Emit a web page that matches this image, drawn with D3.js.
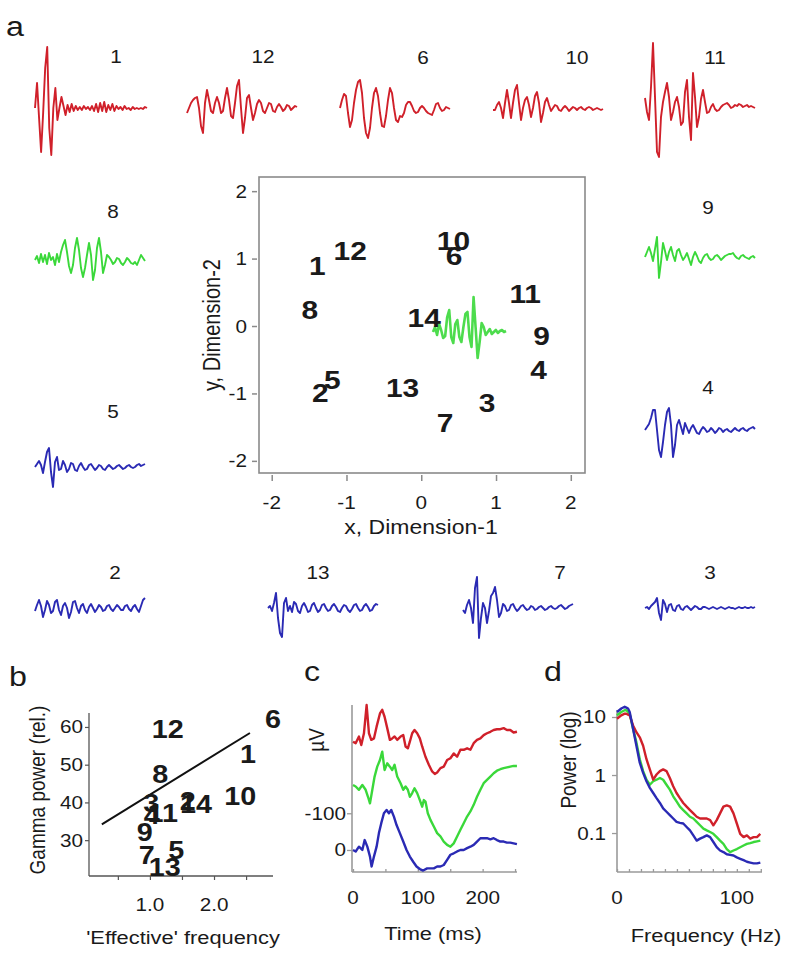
<!DOCTYPE html>
<html><head><meta charset="utf-8">
<script src="https://cdn.jsdelivr.net/npm/d3@7"></script>
<style>body{margin:0;background:#fff} svg{display:block} text{font-family:"Liberation Sans",Arial,sans-serif;fill:#1a1a1a}</style>
</head><body><svg id="fig" width="800" height="976"></svg>
<script>
// ---------- DATA ----------
// panel a: example waveforms (amplitude, up = positive), sampled evenly
const wave1  = [0,25,-10,-44,-5,40,61,-20,-47,0,20,-12,0,11,2,-7,3,-4,4,-3,2,-2,1,-2,2,-1,1,-2,2,-3,4,-4,5,-3,6,-4,3,-2,4,-3,2,-1,1,-2,2,-1,0,-2,1,-1,0,-1,0,-1,1,0];
const wave12 = [-5,0,5,8,10,11,0,-18,-25,5,18,8,-3,-5,5,11,5,-5,-3,10,20,8,-8,-10,5,22,28,0,-25,-10,10,13,0,-12,-5,4,8,5,-3,-5,0,5,4,-3,-4,1,4,1,-3,-1,3,2,-2,0,2,1];
const wave6  = [0,8,14,12,-5,-19,-12,5,18,26,28,15,-10,-25,-30,-20,0,15,20,12,-5,-18,-19,-8,8,20,15,0,-12,-14,-8,-9,-5,3,6,6,2,-3,-5,-4,0,2,0,-3,-5,-6,-7,-2,4,5,0,-3,-2,1,0,-1];
const wave10 = [-2,-2,3,6,0,-10,5,18,5,-10,5,18,23,5,-12,0,8,11,3,-9,0,12,16,5,-14,-5,6,10,3,-3,0,3,2,-2,-3,0,2,0,-3,-1,1,0,-2,0,1,-1,-2,0,1,0,-2,-1,0,-1,-2,-1];
const wave11 = [9,-5,-13,20,64,10,-45,-50,-10,5,15,24,10,-13,-5,5,10,0,-18,-15,15,27,-10,-33,34,10,-20,-10,8,17,5,-6,-5,0,3,-2,-4,-3,0,2,3,4,2,-1,0,2,1,3,2,0,1,2,0,1,0,-1];
const wave8  = [0,4,-3,6,-2,5,-4,7,0,3,-5,6,-2,8,15,20,8,-6,-13,-5,12,22,10,-8,-17,-8,5,17,5,-20,-10,12,22,8,-13,-5,5,3,0,-4,-2,2,1,-3,-5,-2,2,0,-3,-4,-2,-5,0,5,2,-1];
const wave9  = [0,5,10,4,-4,8,20,-21,-5,14,6,-3,5,10,2,-4,6,8,2,-3,0,4,-2,-8,0,5,1,-4,-6,-1,2,3,-1,-3,-2,1,2,0,-3,-1,1,2,3,3,4,1,-1,-2,1,2,0,-1,-2,0,1,-1];
const wave5  = [0,3,6,2,-6,5,15,19,-5,-20,5,10,-3,-2,6,2,-5,-2,4,3,-3,-4,1,4,0,-3,-2,2,3,0,-3,-1,2,1,-2,-3,0,2,0,-2,-1,1,2,0,-2,-1,1,2,0,-1,0,2,3,1,2,3];
const wave4  = [0,3,6,12,20,20,0,-20,-27,-12,5,18,22,5,-27,-15,5,10,3,-4,7,2,-3,2,5,1,-3,-4,0,3,1,-2,-1,2,0,-3,-1,2,1,-2,0,1,-1,-2,0,2,0,-1,1,2,0,-1,1,2,3,1];
const wave2  = [-3,3,8,2,-9,-2,7,3,-5,-3,6,8,-2,-7,2,5,0,-10,-4,6,7,0,-5,2,4,-2,-5,1,4,0,-4,-1,3,1,-3,-2,2,3,-1,-3,0,3,1,-2,-2,2,3,-1,-3,1,3,-1,-4,2,8,10];
const wave13 = [0,2,-3,5,15,-10,-25,-29,5,10,-3,2,-4,6,4,-3,-5,2,5,1,-4,-3,3,5,0,-4,-2,3,4,0,-3,-2,2,4,1,-3,-4,0,3,2,-2,-4,-1,3,4,0,-3,-2,2,4,1,-3,-2,2,4,3];
const wave7  = [-2,-5,3,8,0,-15,20,31,-30,-10,5,0,-15,-3,12,15,21,8,-9,-5,4,2,-3,-2,3,4,0,-3,-1,2,3,0,-2,-1,2,1,-2,-1,1,2,0,-2,-1,1,2,0,-1,0,2,3,1,-1,0,2,3,4];
const wave3  = [0,1,-1,2,4,6,10,-5,-12,8,4,-4,3,4,-2,-3,2,3,-1,-2,1,2,0,-2,0,2,1,-1,-1,1,1,0,-1,0,1,0,-1,0,1,0,-1,0,1,0,0,-1,0,1,0,0,1,0,0,1,0,1];
const wave14 = [0,5,-3,8,2,-6,-4,15,22,-5,-11,8,12,-5,-10,5,18,20,-5,-15,35,5,-26,-10,9,5,-3,0,3,-2,0,2,-1,1,2,0,1];

// panel a: MDS coordinates of the 14 patterns
const mdsLabels = ["1","2","3","4","5","6","7","8","9","10","11","12","13","14"];
const mdsX = [-1.39,-1.35,0.88,1.57,-1.19,0.44,0.32,-1.49,1.61,0.43,1.39,-0.95,-0.25,0.04];
const mdsY = [0.89,-0.99,-1.14,-0.65,-0.81,1.04,-1.44,0.24,-0.15,1.26,0.47,1.11,-0.92,0.12];
const mdsTicks = [-2,-1,0,1,2];

// panel b: gamma power vs effective frequency
const bLabels  = ["1","2","3","4","5","6","7","8","9","10","11","12","13","14"];
const effFreq  = [2.53,1.59,1.02,1.03,1.41,2.92,0.95,1.16,0.92,2.41,1.20,1.28,1.23,1.72];
const gammaPow = [52.6,40.1,39.8,36.4,27.3,61.9,26.0,47.3,32.1,41.5,36.9,59.2,22.8,39.5];
const fitX = [0.25,2.56];
const fitY = [34.2,58.4];
const bYTicks = [30,40,50,60];
const bXTicks = [0.5,1.0,1.5,2.0,2.5];
const bXLabels = [1.0,2.0];

// panel c: average evoked responses [time ms, µV]
const ercRed = [[0,-295],[4.1,-291],[9.2,-309],[12.8,-286],[16.9,-318],[21,-395],[24.6,-318],[28.2,-300],[32.3,-304],[36.4,-336],[41.6,-372],[45.1,-382],[48.7,-363],[52.8,-332],[56.9,-300],[60.5,-304],[64.1,-309],[68.2,-300],[73.4,-309],[77.5,-313],[81.1,-282],[84.6,-277],[87.7,-295],[91.3,-318],[94.9,-327],[99,-318],[103.1,-304],[106.7,-282],[111.8,-254],[117,-232],[122.1,-214],[126.2,-207],[129.8,-211],[134.9,-223],[140,-227],[145.2,-245],[150.3,-250],[155.4,-263],[160.6,-254],[165.7,-273],[170.8,-273],[176,-277],[181.1,-273],[186.2,-291],[191.3,-300],[196.5,-304],[201.6,-313],[206.7,-318],[211.9,-322],[217,-327],[222.1,-329],[227.3,-329],[232.4,-332],[237.5,-327],[242.6,-327],[247.8,-320],[252.9,-322]];
const ercGreen = [[0,-177],[4.1,-173],[9.2,-164],[14.4,-177],[19.5,-164],[23.1,-145],[26.2,-127],[29.8,-164],[33.3,-200],[37.4,-227],[41.6,-245],[45.1,-268],[48.7,-218],[52.8,-236],[56.9,-227],[60.5,-218],[64.1,-232],[68.2,-200],[73.4,-182],[77.5,-164],[81.1,-173],[84.6,-164],[87.7,-145],[91.3,-155],[94.9,-168],[99,-155],[103.1,-136],[106.7,-118],[109.3,-136],[111.8,-132],[115.4,-100],[119.5,-82],[124.7,-64],[129.8,-46],[134.9,-37],[140,-23],[145.2,-14],[150.3,-9],[155.4,-18],[160.6,-37],[165.7,-55],[170.8,-73],[176,-91],[181.1,-105],[186.2,-123],[191.3,-145],[196.5,-164],[201.6,-182],[206.7,-191],[211.9,-200],[217,-209],[222.1,-216],[227.3,-220],[232.4,-223],[237.5,-225],[242.6,-227],[247.8,-229],[252.9,-229]];
const ercBlue = [[0,0],[4.1,4],[9.2,-9],[14.4,0],[18,-27],[22.1,-9],[26.2,18],[28.7,45],[32.3,18],[36.4,-9],[40,-46],[43.6,-73],[47.7,-100],[51.8,-109],[55.4,-100],[59,-109],[63.1,-91],[67.2,-68],[72.3,-46],[77.5,-23],[82.6,0],[87.7,18],[92.9,32],[98,45],[103.1,52],[108.2,56],[114.4,50],[119.5,50],[124.7,50],[129.8,45],[134.9,45],[140,41],[145.2,27],[150.3,13],[155.4,9],[160.6,4],[165.7,0],[170.8,0],[176,-5],[181.1,-9],[186.2,-14],[191.3,-23],[196.5,-32],[201.6,-32],[206.7,-32],[211.9,-29],[217,-32],[222.1,-27],[227.3,-23],[232.4,-23],[237.5,-20],[242.6,-20],[247.8,-18],[252.9,-16]];
const cYTicks = [-100,0];
const cXTicks = [0,50,100,150,200,250];
const cXLabels = [0,100,200];

// panel d: power spectra
const freqHz = [0,3.6,6.4,7.8,9.2,10.6,13.4,16.2,19,21.8,24.6,27.4,30.2,33,35.8,38.5,41.3,44.1,46.9,49.7,52.5,55.3,58.1,60.9,63.7,66.5,69.3,72.1,74.9,77.7,80.4,83.2,86,88.8,91.6,94.4,97.2,100,102.8,105.6,108.4,111.2,114,116.8,119.6];
const powRed   = [9.35,10.7,11.4,11.4,11.0,10.7,7.15,5.47,4.47,3.19,1.87,1.25,0.83,1.02,1.17,1.25,1.17,0.89,0.64,0.49,0.40,0.33,0.285,0.249,0.218,0.191,0.178,0.178,0.178,0.167,0.136,0.167,0.218,0.285,0.30,0.285,0.218,0.146,0.097,0.085,0.091,0.080,0.085,0.085,0.097];
const powGreen = [10.7,12.2,13.1,13.1,12.2,11.4,6.25,3.65,1.87,1.17,0.83,0.68,0.78,0.83,0.89,0.83,0.68,0.56,0.43,0.35,0.285,0.249,0.218,0.191,0.178,0.156,0.136,0.119,0.111,0.104,0.097,0.085,0.074,0.065,0.053,0.047,0.050,0.053,0.057,0.061,0.065,0.067,0.070,0.072,0.074];
const powBlue  = [12.2,14.0,15.0,14.5,14.0,12.2,6.25,3.19,1.63,1.09,0.78,0.60,0.49,0.40,0.33,0.267,0.233,0.204,0.178,0.156,0.150,0.146,0.127,0.111,0.091,0.074,0.080,0.085,0.091,0.085,0.070,0.057,0.050,0.047,0.043,0.042,0.041,0.038,0.036,0.034,0.032,0.031,0.030,0.030,0.031];
const dYTicks = [10,1,0.1];
const dXTicks = [0,10,20,30,40,50,60,70,80,90,100,110,120];
const dXLabels = [0,100];

// ---------- DRAWING ----------
const RED = "#d0202a", GREEN = "#3ad83a", BLUE = "#2a2ab4";
const SX = 1.15;
const svg = d3.select("#fig");

function txt(x, y, s, size, o = {}) {
  return svg.append("text")
    .attr("transform", `translate(${x},${y}) scale(${SX},1)` + (o.rot ? ` rotate(${o.rot})` : ""))
    .attr("text-anchor", o.anchor || "middle")
    .attr("dominant-baseline", "central")
    .style("font-size", size + "px")
    .style("font-weight", o.bold ? "bold" : "normal")
    .text(s);
}

// waveforms
const waves = {"1":wave1,"12":wave12,"6":wave6,"10":wave10,"11":wave11,"8":wave8,"9":wave9,"5":wave5,"4":wave4,"2":wave2,"13":wave13,"7":wave7,"3":wave3};
const wfPlace = {"1":[35,147,108],"12":[187,297,108],"6":[340,450,108],"10":[493,603,108],"11":[645,755,107],
  "8":[35,145,260],"9":[645,755,257],"5":[35,145,467],"4":[645,755,430],
  "2":[35,145,608],"13":[268,378,608],"7":[463,573,608],"3":[645,755,608]};
const wfLabelPos = {"1":[116,57],"12":[263,57],"6":[423,58],"10":[577,58],"11":[715,58],
  "8":[113,212],"9":[708,208],"5":[113,412],"4":[708,388],
  "2":[115,573],"13":[318,573],"7":[560,573],"3":[710,573]};
const wfColor = id => (["1","12","6","10","11"].includes(id) ? RED : (["8","9","14"].includes(id) ? GREEN : BLUE));

function drawWave(vals, x0, x1, base, color, width, opacity) {
  const x = d3.scaleLinear().domain([0, vals.length - 1]).range([x0, x1]);
  const y = d3.scaleLinear().domain([-10, 10]).range([base + 10, base - 10]);
  svg.append("path").datum(vals)
    .attr("d", d3.line().x((d, i) => x(i)).y(d => y(d)))
    .attr("fill", "none").attr("stroke", color).attr("stroke-width", width)
    .attr("stroke-linejoin", "round").attr("opacity", opacity || 1);
}
Object.keys(waves).forEach(id => {
  const p = wfPlace[id];
  drawWave(waves[id], p[0], p[1], p[2], wfColor(id), 1.9);
  txt(wfLabelPos[id][0], wfLabelPos[id][1], id, 18);
});

txt(15, 26, "a", 28);

// MDS scatter
const sx = d3.scaleLinear().domain([-2.17, 2.19]).range([259, 585]);
const sy = d3.scaleLinear().domain([-2.18, 2.21]).range([473, 177]);
svg.append("rect").attr("x", sx.range()[0]).attr("y", sy.range()[1])
  .attr("width", sx.range()[1] - sx.range()[0]).attr("height", sy.range()[0] - sy.range()[1])
  .attr("fill", "none").attr("stroke", "#8a8a8a").attr("stroke-width", 1.6);
const gyA = svg.append("g").attr("transform", "translate(257,0)")
  .call(d3.axisLeft(sy).tickValues(mdsTicks).tickSize(5).tickFormat(""));
const gxA = svg.append("g").attr("transform", "translate(0,475)")
  .call(d3.axisBottom(sx).tickValues(mdsTicks).tickSize(6).tickFormat(""));
[gyA, gxA].forEach(g => { g.select(".domain").remove(); g.selectAll("line").attr("stroke", "#8a8a8a").attr("stroke-width", 1.5); });
mdsTicks.forEach(v => {
  txt(247, sy(v), String(v), 18, {anchor: "end"});
  txt(sx(v), 503, String(v), 18);
});
txt(421, 527, "x, Dimension-1", 20);
txt(212, 325, "y, Dimension-2", 20, {rot: -90});
drawWave(wave14, 433, 506, 332, GREEN, 2.6, 0.9);
mdsLabels.forEach((l, i) => txt(sx(mdsX[i]), sy(mdsY[i]), l, 26, {bold: true}));

// panel b
txt(18, 676, "b", 28);
const bx = d3.scaleLinear().domain([0.05, 2.92]).range([89, 273]);
const by = d3.scaleLinear().domain([20.5, 63.7]).range([876, 713]);
svg.append("line").attr("x1", 89).attr("x2", 89).attr("y1", 713).attr("y2", 876).attr("stroke", "#555").attr("stroke-width", 1.3);
svg.append("line").attr("x1", 89).attr("x2", 273).attr("y1", 876).attr("y2", 876).attr("stroke", "#555").attr("stroke-width", 1.3);
const gby = svg.append("g").attr("transform", "translate(89,0)")
  .call(d3.axisLeft(by).tickValues(bYTicks).tickSize(4).tickFormat(""));
const gbx = svg.append("g").attr("transform", "translate(0,876)")
  .call(d3.axisBottom(bx).tickValues(bXTicks).tickSize(4).tickFormat(""));
[gby, gbx].forEach(g => { g.select(".domain").remove(); g.selectAll("line").attr("stroke", "#555").attr("stroke-width", 1.2); });
bYTicks.forEach(v => txt(83, by(v), String(v), 18, {anchor: "end"}));
bXLabels.forEach(v => txt(bx(v), 905, d3.format(".1f")(v), 18));
txt(183, 937, "'Effective' frequency", 19);
txt(37, 790, "Gamma power (rel.)", 19, {rot: -90});
svg.append("line").attr("x1", bx(fitX[0])).attr("y1", by(fitY[0])).attr("x2", bx(fitX[1])).attr("y2", by(fitY[1]))
  .attr("stroke", "#111").attr("stroke-width", 2);
bLabels.forEach((l, i) => txt(bx(effFreq[i]), by(gammaPow[i]), l, 25, {bold: true}));

// panel c
txt(312, 671, "c", 28);
const cx = d3.scaleLinear().domain([0, 253]).range([353, 517]);
const cy = d3.scaleLinear().domain([-395, 60]).range([705, 872]);
svg.append("line").attr("x1", 352).attr("x2", 352).attr("y1", 705).attr("y2", 872).attr("stroke", "#9a9a9a").attr("stroke-width", 1.6);
svg.append("line").attr("x1", 352).attr("x2", 517).attr("y1", 872).attr("y2", 872).attr("stroke", "#9a9a9a").attr("stroke-width", 1.6);
const gcy = svg.append("g").attr("transform", "translate(352,0)")
  .call(d3.axisLeft(cy).tickValues(cYTicks).tickSize(5).tickFormat(""));
const gcx = svg.append("g").attr("transform", "translate(0,872)")
  .call(d3.axisTop(cx).tickValues(cXTicks).tickSize(3).tickFormat(""));
[gcy, gcx].forEach(g => { g.select(".domain").remove(); g.selectAll("line").attr("stroke", "#9a9a9a").attr("stroke-width", 1.3); });
cYTicks.forEach(v => txt(346, cy(v), String(v), 18, {anchor: "end"}));
cXLabels.forEach(v => txt(cx(v), 898, String(v), 18));
txt(433, 933, "Time (ms)", 19);
txt(316, 740, "µV", 19, {rot: -90});
const cLine = d3.line().x(d => cx(d[0])).y(d => cy(d[1]));
[[ercRed, RED], [ercGreen, GREEN], [ercBlue, BLUE]].forEach(([d, c]) => {
  svg.append("path").datum(d).attr("d", cLine).attr("fill", "none").attr("stroke", c).attr("stroke-width", 2.4).attr("stroke-linejoin", "round");
});

// panel d
txt(553, 671, "d", 28);
const dx = d3.scaleLinear().domain([0, 121]).range([617, 762]);
const dy = d3.scaleLog().domain([0.0213, 16.1]).range([872, 705]);
svg.append("line").attr("x1", 617).attr("x2", 617).attr("y1", 710).attr("y2", 872).attr("stroke", "#9a9a9a").attr("stroke-width", 1.6);
svg.append("line").attr("x1", 617).attr("x2", 762).attr("y1", 872).attr("y2", 872).attr("stroke", "#9a9a9a").attr("stroke-width", 1.6);
const gdy = svg.append("g").attr("transform", "translate(617,0)")
  .call(d3.axisLeft(dy).tickValues(dYTicks).tickSize(5).tickFormat(""));
const gdx = svg.append("g").attr("transform", "translate(0,872)")
  .call(d3.axisTop(dx).tickValues(dXTicks).tickSize(3).tickFormat(""));
[gdy, gdx].forEach(g => { g.select(".domain").remove(); g.selectAll("line").attr("stroke", "#9a9a9a").attr("stroke-width", 1.3); });
dYTicks.forEach(v => txt(606, dy(v), String(v), 18, {anchor: "end"}));
dXLabels.forEach(v => txt(dx(v), 898, String(v), 18));
txt(706, 935, "Frequency (Hz)", 19);
txt(568, 760, "Power (log)", 19, {rot: -90});
const dLine = (p) => d3.line().x((d, i) => dx(freqHz[i])).y(d => dy(d))(p);
[[powGreen, GREEN], [powRed, RED], [powBlue, BLUE]].forEach(([p, c]) => {
  svg.append("path").attr("d", dLine(p)).attr("fill", "none").attr("stroke", c).attr("stroke-width", 2.4).attr("stroke-linejoin", "round");
});
</script></body></html>
